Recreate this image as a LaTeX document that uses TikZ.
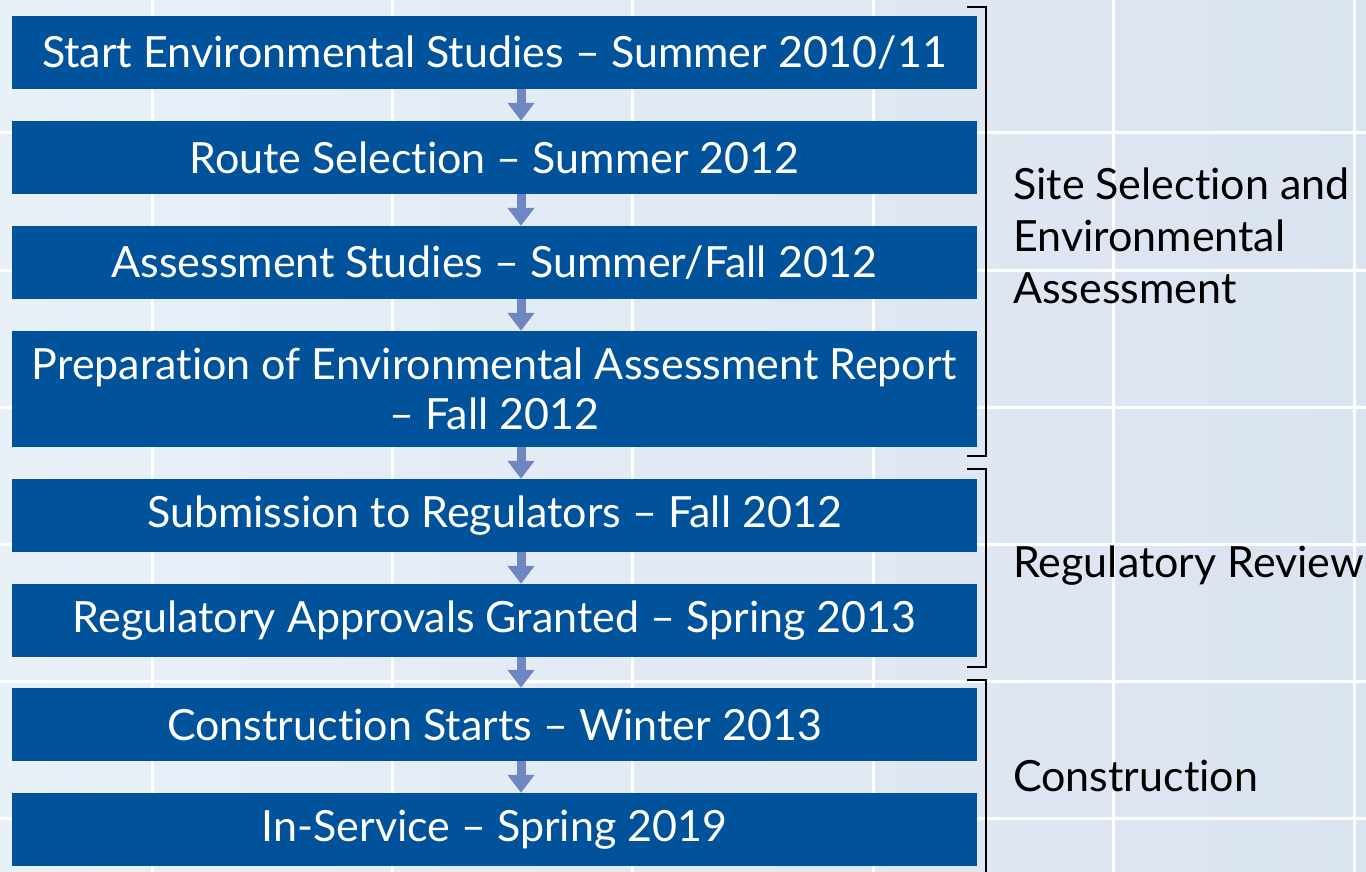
\documentclass[tikz,border=0pt]{standalone}
\usepackage{fontspec}
\setmainfont[Ligatures=NoCommon]{Lato}
\usetikzlibrary{arrows.meta}

\definecolor{boxblue}{RGB}{0,82,155}
\definecolor{arrowblue}{RGB}{112,134,194}
\definecolor{bgleft}{RGB}{232,240,248}
\definecolor{bgright}{RGB}{218,227,240}

\begin{document}
\begin{tikzpicture}[x=1pt,y=-1pt,
		stagebox/.style={
		% The shape:
		rectangle,
		inner sep=0pt,
		% The size:
		minimum width=965pt,
		minimum height=73pt,
		% The filling:
		fill=boxblue,
		% Font
		text=white,
		align=center,
		font=\fontsize{43}{50}\selectfont
		},
		phaselabel/.style={
		anchor=west,
		inner sep=0pt,
		align=left,
		font=\fontsize{43}{52}\selectfont
		},
		flowarrow/.style={
		draw=arrowblue,
		line width=9pt,
		-{Triangle[width=26pt,length=18pt]}
		},
		bracket/.style={
		draw=black,
		line width=2.5pt
		},
		gridline/.style={
		draw=white,
		line width=3pt
		}
	]
	\useasboundingbox (0,0) rectangle (1366,872);
	% background and its grid
	\shade[left color=bgleft, right color=bgright] (0,0) rectangle (1366,872);
	\foreach \i in {0,...,5}
		\draw[gridline] ({152+240.4*\i},0) -- ++(0,872);
	\foreach \i in {0,...,5}
		\draw[gridline] (0,{133+137.1*\i}) -- ++(1366,0);

	\node (B1)[stagebox] at (494.5,52.5) {Start Environmental Studies -- Summer 2010/11};
	\node (B2)[stagebox] at (494.5,157.5) {Route Selection -- Summer 2012};
	\node (B3)[stagebox] at (494.5,262.5) {Assessment Studies -- Summer/Fall 2012};
	\node (B4)[stagebox, minimum height=116pt] at (494.5,389) {Preparation of Environmental Assessment Report\\ -- Fall 2012};
	\node (B5)[stagebox] at (494.5,515.5) {Submission to Regulators -- Fall 2012};
	\node (B6)[stagebox] at (494.5,620.5) {Regulatory Approvals Granted -- Spring 2013};
	\node (B7)[stagebox] at (494.5,724.5) {Construction Starts -- Winter 2013};
	\node (B8)[stagebox] at (494.5,829.5) {In-Service -- Spring 2019};
	\coordinate (AX) at (521,0);

	\draw[flowarrow] (B1.south -| AX) -- (B2.north -| AX);
	\draw[flowarrow] (B2.south -| AX) -- (B3.north -| AX);
	\draw[flowarrow] (B3.south -| AX) -- (B4.north -| AX);
	\draw[flowarrow] (B4.south -| AX) -- (B5.north -| AX);
	\draw[flowarrow] (B5.south -| AX) -- (B6.north -| AX);
	\draw[flowarrow] (B6.south -| AX) -- (B7.north -| AX);
	\draw[flowarrow] (B7.south -| AX) -- (B8.north -| AX);

	% phase brackets
	\draw[bracket] (967,7) -- (986,7) -- (986,456) -- (967,456);
	\draw[bracket] (967,469) -- (986,469) -- (986,667) -- (967,667);
	\draw[bracket] (967,680) -- (986,680) -- (986,875);
	\coordinate (P1) at (1013,236);
	\coordinate (P2) at (1013,566);
	\coordinate (P3) at (1013,776);

	\node (L1)[phaselabel] at (P1) {Site Selection and\\Environmental\\Assessment};
	\node (L2)[phaselabel] at (P2) {Regulatory Review};
	\node (L3)[phaselabel] at (P3) {Construction};
\end{tikzpicture}
\end{document}
